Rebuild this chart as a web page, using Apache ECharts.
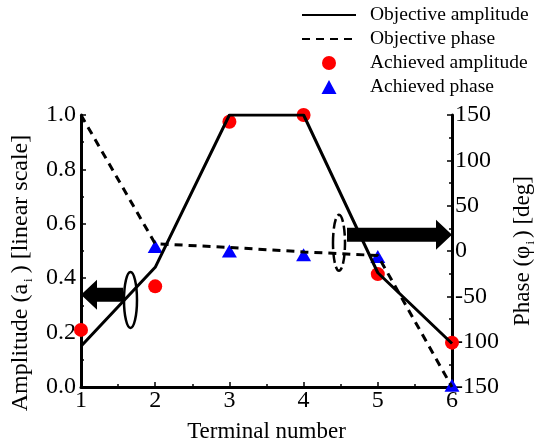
<!DOCTYPE html>
<html>
<head>
<meta charset="utf-8">
<script src="https://cdn.jsdelivr.net/npm/echarts@6/dist/echarts.min.js"></script>
<style>
html, body { margin: 0; padding: 0; background: #fff; }
#main { width: 538px; height: 444px; }
</style>
</head>
<body>
<div id="main"></div>
<script>
var terminals = [1, 2, 3, 4, 5, 6];
var objAmplitude = [0.15, 0.44, 1.0, 1.0, 0.42, 0.16];
var objPhase = [150, 8, 4, -1, -5, -150];
var achAmplitude = [0.21, 0.37, 0.975, 1.0, 0.415, 0.163];
var achPhase = [158, 5, 0, -4, -6, -148];

var FONT = 'Liberation Serif';

function pairs(xs, ys) {
	var out = [];
	for (var i = 0; i < xs.length; i++) {
		out.push([xs[i], ys[i]]);
	}
	return out;
}

var myChart = echarts.init(document.getElementById('main'));
var option = {
	animation: false,
	backgroundColor: '#fff',
	grid: {
		left: 81,
		right: 86,
		top: 115,
		bottom: 57,
		outerBoundsMode: 'none'
	},
	legend: {
		orient: 'vertical',
		left: 296,
		top: 0,
		itemWidth: 54,
		itemHeight: 14,
		itemGap: 4,
		symbolKeepAspect: true,
		textStyle: { fontFamily: FONT, fontSize: 19.5, color: '#000', padding: [0, 0, 0, 9] },
		data: [
			{ name: 'Objective amplitude', itemStyle: { opacity: 0 } },
			{ name: 'Objective phase', itemStyle: { opacity: 0 } },
			{ name: 'Achieved amplitude', icon: 'circle' },
			{ name: 'Achieved phase', icon: 'path://M0,7L0,7M54,7L54,7M19.5,14L27,0L34.5,14Z' }
		]
	},
	xAxis: {
		type: 'value',
		min: 1,
		max: 6,
		interval: 1,
		name: 'Terminal number',
		nameLocation: 'middle',
		nameGap: 33,
		nameTextStyle: { fontFamily: FONT, fontSize: 23, color: '#000' },
		axisLine: { lineStyle: { color: '#000', width: 3 } },
		axisTick: { inside: true, length: 5, lineStyle: { color: '#000', width: 1.5 } },
		minorTick: { show: true, splitNumber: 2, length: 3, lineStyle: { color: '#000', width: 1.5 } },
		axisLabel: { fontFamily: FONT, fontSize: 24, color: '#000', margin: 2 },
		splitLine: { show: false }
	},
	yAxis: [{
		type: 'value',
		min: 0,
		max: 1,
		interval: 0.2,
		position: 'left',
		name: '{n|Amplitude (a}{s|i}{n|) [linear scale]}',
		nameLocation: 'middle',
		nameGap: 42,
		nameRotate: 90,
		nameTextStyle: {
			padding: [0, 44, 0, 0],
			rich: {
				n: { fontFamily: FONT, fontSize: 24, color: '#000' },
				s: { fontFamily: FONT, fontSize: 13, color: '#000', padding: [16, 5, 0, 2] }
			}
		},
		axisLine: { show: true, lineStyle: { color: '#000', width: 3 } },
		axisTick: { inside: true, length: 5, lineStyle: { color: '#000', width: 1.5 } },
		minorTick: { show: true, splitNumber: 2, length: 3, lineStyle: { color: '#000', width: 1.5 } },
		axisLabel: {
			fontFamily: FONT, fontSize: 24, color: '#000', margin: 5,
			formatter: function (v) { return v.toFixed(1); }
		},
		splitLine: { show: false }
	}, {
		type: 'value',
		min: -150,
		max: 150,
		interval: 50,
		position: 'right',
		name: '{n|Phase (\u03c6}{s|i}{n|) [deg]}',
		nameLocation: 'middle',
		nameGap: 56,
		nameRotate: 90,
		nameTextStyle: {
			rich: {
				n: { fontFamily: FONT, fontSize: 23, color: '#000' },
				s: { fontFamily: FONT, fontSize: 13, color: '#000', padding: [16, 3, 0, 1] }
			}
		},
		axisLine: { show: true, lineStyle: { color: '#000', width: 3 } },
		axisTick: { inside: true, length: 5, lineStyle: { color: '#000', width: 1.5 } },
		minorTick: { show: true, splitNumber: 2, length: 3, lineStyle: { color: '#000', width: 1.5 } },
		axisLabel: { fontFamily: FONT, fontSize: 24, color: '#000', margin: 3 },
		splitLine: { show: false }
	}],
	series: [{
		name: 'Objective amplitude',
		type: 'line',
		yAxisIndex: 0,
		symbol: 'none',
		lineStyle: { color: '#000', width: 3 },
		itemStyle: { color: '#000' },
		data: pairs(terminals, objAmplitude)
	}, {
		name: 'Objective phase',
		type: 'line',
		yAxisIndex: 1,
		symbol: 'none',
		lineStyle: { color: '#000', width: 3, type: [8, 6] },
		itemStyle: { color: '#000' },
		data: pairs(terminals, objPhase)
	}, {
		name: 'Achieved amplitude',
		type: 'scatter',
		yAxisIndex: 0,
		symbol: 'circle',
		symbolSize: 14,
		itemStyle: { color: '#ff0000', opacity: 1 },
		data: pairs(terminals, achAmplitude)
	}, {
		name: 'Achieved phase',
		type: 'scatter',
		yAxisIndex: 1,
		symbol: 'triangle',
		symbolSize: [15, 13],
		itemStyle: { color: '#0000ff', opacity: 1 },
		data: pairs(terminals, achPhase)
	}]
};
myChart.setOption(option);

// 注释: 椭圆 + 箭头 (用数据坐标定位)
function px(x, y, axisIdx) {
	return myChart.convertToPixel({ xAxisIndex: 0, yAxisIndex: axisIdx }, [x, y]);
}
function arrow(from, to) {
	var dir = to[0] > from[0] ? 1 : -1;
	var bh = 7, hh = 15, hl = 16;
	var y = from[1];
	var hx = to[0] - dir * hl;
	return [[from[0], y - bh], [hx, y - bh], [hx, y - hh], [to[0], y], [hx, y + hh], [hx, y + bh], [from[0], y + bh]];
}
var lc = px(1.667, 0.32, 0);
var la0 = px(1.566, 0.339, 0);
var la1 = px(1.0, 0.339, 0);
var rc = px(4.477, 9, 1);
var ra0 = px(4.585, 18, 1);
var ra1 = px(6.0, 18, 1);
myChart.setOption({
	graphic: [{
		type: 'polygon', z: 100,
		shape: { points: arrow(la0, la1) },
		style: { fill: '#000' }
	}, {
		type: 'ellipse', z: 100,
		shape: { cx: lc[0], cy: lc[1], rx: 6.5, ry: 28 },
		style: { fill: 'none', stroke: '#000', lineWidth: 2.5 }
	}, {
		type: 'polygon', z: 100,
		shape: { points: arrow(ra0, ra1) },
		style: { fill: '#000' }
	}, {
		type: 'ellipse', z: 100,
		shape: { cx: rc[0], cy: rc[1], rx: 6, ry: 28 },
		style: { fill: 'none', stroke: '#000', lineWidth: 2.5, lineDash: [10, 4] }
	}]
});
</script>
</body>
</html>
